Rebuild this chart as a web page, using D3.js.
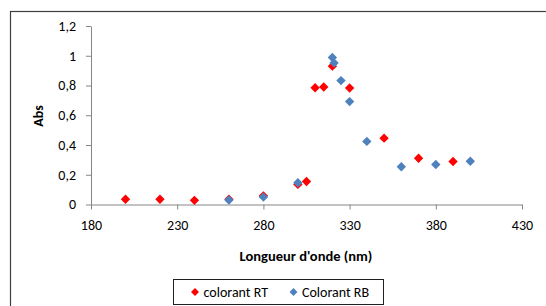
<!DOCTYPE html>
<html><head><meta charset="utf-8">
<script src="https://cdn.jsdelivr.net/npm/d3@7"></script>
<style>html,body{margin:0;padding:0;background:#fff;}svg{display:block;}</style>
</head><body>
<svg id="c" width="546" height="306"></svg>
<script>
const seriesNames = ["colorant RT", "Colorant RB"];
const rtX = [200, 220, 240, 260, 280, 300, 305, 310, 315, 320, 330, 350, 370, 390];
const rtY = [0.035, 0.035, 0.028, 0.036, 0.058, 0.135, 0.155, 0.785, 0.79, 0.93, 0.783, 0.446, 0.311, 0.289];
const rbX = [260, 280, 300, 320, 321, 325, 330, 340, 360, 380, 400];
const rbY = [0.03, 0.05, 0.146, 0.988, 0.952, 0.833, 0.692, 0.424, 0.254, 0.269, 0.291];
const xTicks = [180, 230, 280, 330, 380, 430];
const yTicks = [0, 0.2, 0.4, 0.6, 0.8, 1, 1.2];
const colors = ["#FF0000", "#4F81BD"];

const svg = d3.select("#c");
const font = "Carlito, Lato, 'Open Sans', sans-serif";
// frame
svg.append("rect").attr("x", 10.5).attr("y", 11.5).attr("width", 560).attr("height", 320)
  .attr("fill", "#fff").attr("stroke", "#404040").attr("stroke-width", 1.2);

const x = d3.scaleLinear().domain([180, 430]).range([91, 522]);
const y = d3.scaleLinear().domain([0, 1.2]).range([204.5, 26]);
const fmt = d => d3.format("~g")(d).replace(".", ",");

const gx = svg.append("g").attr("transform", `translate(0,${y(0)})`)
  .call(d3.axisBottom(x).tickValues(xTicks).tickSize(5).tickSizeOuter(0).tickPadding(11));
const gy = svg.append("g").attr("transform", `translate(${x(180)},0)`)
  .call(d3.axisLeft(y).tickValues(yTicks).tickSize(5).tickSizeOuter(0).tickFormat(fmt).tickPadding(10));
[gx, gy].forEach(g => {
  g.selectAll("path,line").attr("stroke", "#868686");
  g.selectAll("text").attr("fill", "#000").style("font-family", font).style("font-size", "14px");
});

svg.append("text").attr("x", 306).attr("y", 261).attr("text-anchor", "middle")
  .style("font-family", font).style("font-size", "14.5px").style("font-weight", "bold").text("Longueur d'onde  (nm)");
svg.append("text").attr("transform", `translate(43,116) rotate(-90)`).attr("text-anchor", "middle")
  .style("font-family", font).style("font-size", "14px").style("font-weight", "bold").text("Abs");

const sym = d3.symbol().type(d3.symbolDiamond2).size(56);
const series = [
  rtX.map((v, i) => [v, rtY[i]]),
  rbX.map((v, i) => [v, rbY[i]])
];
series.forEach((pts, si) => {
  svg.append("g").selectAll("path").data(pts).join("path")
    .attr("d", sym).attr("transform", d => `translate(${x(d[0])},${y(d[1])})`)
    .attr("fill", colors[si]);
});

// legend
const lg = svg.append("g");
lg.append("rect").attr("x", 173.5).attr("y", 279.5).attr("width", 210).attr("height", 25)
  .attr("fill", "#fff").attr("stroke", "#202020").attr("stroke-width", 1);
const lx = [195, 293.5];
const tx = [203.5, 302];
seriesNames.forEach((n, i) => {
  lg.append("path").attr("d", d3.symbol().type(d3.symbolDiamond2).size(40)).attr("transform", `translate(${lx[i]},292)`)
    .attr("fill", colors[i]);
  lg.append("text").attr("x", tx[i]).attr("y", 297).style("font-family", font).style("font-size", "14px")
    .text(n);
});
</script>
</body></html>
